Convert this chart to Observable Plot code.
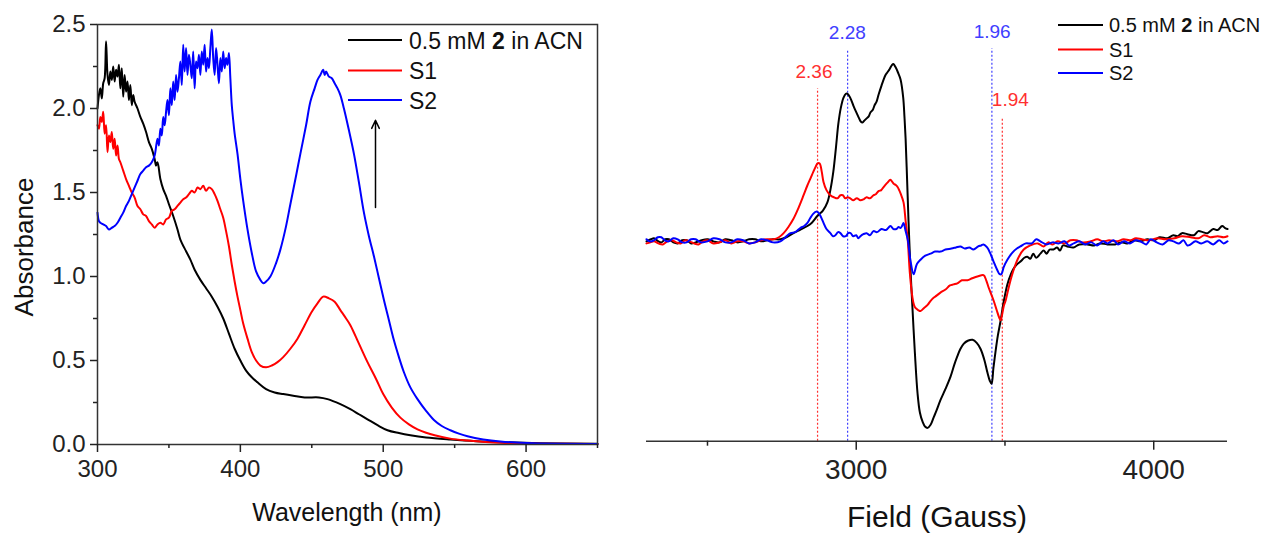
<!DOCTYPE html>
<html><head><meta charset="utf-8">
<script src="https://cdn.jsdelivr.net/npm/d3@7"></script>
<script src="https://cdn.jsdelivr.net/npm/@observablehq/plot@0.6"></script>
<style>
body{margin:0;background:#fff;}
#wrap{position:relative;width:1262px;height:535px;overflow:hidden;font-family:"Liberation Sans",Arial,sans-serif;background:#fff;}
#left,#right,#overlay{position:absolute;top:0;}
#left{left:0}
#right{left:620px}
#overlay{left:0;pointer-events:none}
</style></head><body>
<div id="wrap"><div id="left"></div><div id="right"></div><svg id="overlay" width="1262" height="535"></svg></div>
<script>
// ---------- UV-vis panel data ----------
const seriesNames = ["0.5 mM 2 in ACN", "S1", "S2"];
const uvXTicks = [300, 400, 500, 600];
const uvXMinor = [350, 450, 550, 650];
const uvYTicks = [0, 0.5, 1.0, 1.5, 2.0, 2.5];
const uvYMinor = [0.25, 0.75, 1.25, 1.75, 2.25];
const uvXLabel = "Wavelength (nm)";
const uvYLabel = "Absorbance";

const uvBlack = [[300,2.00],[301,2.08],[302,2.12],[303,2.06],[304,2.15],[305,2.18],[306,2.40],[307,2.20],[308,2.14],[309,2.22],[310,2.17],[311,2.25],[312,2.16],[313,2.23],[314,2.19],[315,2.26],[316,2.12],[317,2.24],[318,2.07],[319,2.20],[320,2.10],[321,2.16],[322,2.05],[323,2.14],[324,2.02],[325,2.08],[326,2.04],[328,2.00],[330,1.95],[332,1.91],[334,1.86],[336,1.80],[338,1.76],[340,1.70],[341,1.66],[342,1.68],[344,1.58],[346,1.52],[348,1.48],[350,1.43],[353,1.36],[356,1.28],[358,1.22],[362,1.15],[365,1.10],[368,1.04],[372,0.98],[376,0.93],[380,0.88],[384,0.82],[388,0.75],[392,0.66],[396,0.57],[400,0.50],[404,0.44],[408,0.40],[412,0.37],[418,0.33],[424,0.31],[430,0.30],[437,0.29],[445,0.28],[455,0.28],[461,0.27],[470,0.24],[477,0.21],[483,0.18],[489,0.15],[496,0.115],[503,0.085],[511,0.068],[519,0.055],[530,0.042],[547,0.03],[565,0.02],[582,0.014],[610,0.008],[650,0.005]];

const uvRed = [[300,1.90],[301,1.88],[302,1.95],[303,1.92],[304,1.98],[305,1.85],[306,1.90],[307,1.74],[308,1.84],[309,1.80],[310,1.86],[311,1.76],[312,1.82],[313,1.72],[314,1.78],[315,1.70],[316,1.68],[318,1.63],[320,1.58],[322,1.54],[324,1.50],[326,1.47],[328,1.42],[330,1.40],[332,1.37],[334,1.36],[336,1.33],[338,1.31],[340,1.29],[342,1.31],[344,1.32],[346,1.31],[348,1.34],[350,1.35],[352,1.39],[354,1.40],[356,1.42],[358,1.44],[360,1.46],[362,1.47],[364,1.49],[366,1.51],[368,1.50],[370,1.53],[372,1.52],[374,1.54],[376,1.51],[378,1.53],[380,1.52],[382,1.49],[384,1.45],[386,1.40],[388,1.35],[390,1.27],[392,1.18],[394,1.07],[396,0.97],[398,0.88],[400,0.80],[402,0.72],[405,0.63],[408,0.55],[411,0.50],[414,0.47],[418,0.46],[422,0.47],[426,0.49],[430,0.52],[435,0.57],[440,0.63],[445,0.71],[450,0.79],[454,0.84],[458,0.88],[462,0.87],[466,0.85],[470,0.80],[474,0.75],[477,0.71],[483,0.60],[489,0.49],[495,0.39],[500,0.30],[506,0.22],[512,0.16],[518,0.12],[524,0.09],[530,0.07],[536,0.055],[547,0.035],[559,0.024],[582,0.01],[610,0.005],[650,0.003]];

const uvBlue = [[300,1.38],[301,1.33],[302,1.32],[304,1.31],[306,1.30],[308,1.28],[310,1.29],[312,1.30],[314,1.32],[316,1.35],[318,1.38],[320,1.42],[322,1.45],[324,1.49],[326,1.53],[328,1.57],[330,1.61],[332,1.63],[334,1.65],[336,1.66],[338,1.68],[340,1.72],[342,1.82],[343,1.78],[344,1.88],[345,1.84],[346,1.95],[347,1.90],[348,1.98],[349,2.05],[350,1.96],[351,2.12],[352,2.02],[353,2.16],[354,2.05],[355,2.20],[356,2.10],[357,2.18],[358,2.28],[359,2.14],[360,2.38],[361,2.22],[362,2.36],[363,2.20],[364,2.32],[365,2.26],[366,2.18],[367,2.34],[368,2.12],[369,2.28],[370,2.24],[371,2.32],[372,2.20],[373,2.34],[374,2.26],[375,2.38],[376,2.22],[377,2.30],[378,2.24],[379,2.36],[380,2.47],[381,2.30],[382,2.20],[383,2.36],[384,2.26],[385,2.15],[386,2.30],[387,2.22],[388,2.34],[389,2.24],[390,2.30],[391,2.26],[392,2.33],[393,2.18],[394,2.02],[395,1.93],[396,1.85],[398,1.73],[400,1.58],[402,1.45],[405,1.28],[408,1.14],[411,1.03],[414,0.98],[416,0.96],[418,0.97],[421,1.00],[425,1.08],[428,1.16],[432,1.30],[435,1.43],[439,1.60],[442,1.73],[446,1.90],[449,2.04],[452,2.12],[454,2.17],[456,2.20],[458,2.23],[459,2.20],[460,2.22],[462,2.19],[464,2.18],[466,2.15],[468,2.12],[470,2.08],[472.5,2.00],[476,1.87],[479.5,1.73],[483,1.56],[486.5,1.38],[490,1.24],[493.5,1.12],[497,0.99],[500.5,0.86],[504,0.74],[507.5,0.62],[511,0.52],[514.5,0.43],[519,0.34],[524,0.27],[530,0.20],[535.5,0.146],[541,0.11],[547,0.085],[553,0.065],[559,0.049],[570,0.03],[582,0.018],[605,0.007],[650,0.003]];

// arrow annotation (wavelength, absorbance from -> to)
const uvArrow = [{x1: 494.6, y1: 1.41, x2: 494.6, y2: 1.93}];

// ---------- EPR panel data (field in Gauss, intensity a.u.) ----------
const eprXTicks = [3000, 4000];
const eprXMinor = [2500, 3500];
const eprXLabel = "Field (Gauss)";

const eprBlack = [[2295,0],[2310,2],[2320,3],[2335,0],[2345,-1],[2358,2],[2370,2],[2385,-1],[2400,-2],[2415,1],[2430,1],[2445,-2],[2460,-1],[2480,1],[2500,2],[2520,0],[2540,-1],[2560,2],[2580,1],[2600,-1],[2620,0],[2640,2],[2660,2],[2680,0],[2700,1],[2720,2],[2745,2],[2765,4],[2789,8],[2810,11],[2836,15],[2850,18],[2870,25],[2888,30],[2903,38],[2913,50],[2923,68],[2932,92],[2940,115],[2948,130],[2957,140],[2965,144],[2971,144],[2980,140],[2991,132],[3000,126],[3008,121],[3015,117],[3021,116],[3028,118],[3035,120],[3042,122],[3048,126],[3055,128],[3062,133],[3068,136],[3075,143],[3085,152],[3098,162],[3105,165],[3112,168],[3120,172],[3125,173],[3132,170],[3140,165],[3149,158],[3158,140],[3162,122],[3166,100],[3171,60],[3176,18],[3182,-25],[3189,-65],[3197,-108],[3206,-148],[3214,-167],[3223,-176],[3232,-181],[3240,-182],[3250,-179],[3260,-172],[3270,-165],[3283,-155],[3300,-144],[3317,-132],[3330,-120],[3340,-112],[3350,-105],[3361,-100],[3375,-97],[3391,-96],[3405,-99],[3418,-105],[3430,-115],[3441,-128],[3449,-136],[3455,-139],[3461,-124],[3468,-108],[3476,-92],[3485,-78],[3495,-60],[3508,-42],[3520,-32],[3530,-26],[3542,-22],[3555,-19],[3565,-16],[3575,-15],[3585,-17],[3595,-12],[3605,-16],[3619,-12],[3630,-9],[3640,-12],[3650,-8],[3663,-8],[3675,-6],[3685,-9],[3695,-4],[3710,-5],[3730,-6],[3750,-3],[3777,-3],[3800,-4],[3820,-2],[3844,-3],[3870,-3],[3890,-1],[3911,-2],[3935,1],[3955,0],[3979,2],[4000,1],[4020,4],[4046,3],[4066,6],[4080,5],[4095,8],[4113,7],[4135,6],[4150,10],[4165,9],[4181,8],[4200,12],[4215,11],[4230,15],[4240,13],[4248,12]];

const eprRed = [[2295,-2],[2308,-1],[2320,0],[2335,-2],[2350,-3],[2365,0],[2380,1],[2395,-1],[2410,-2],[2425,1],[2440,0],[2455,-2],[2470,-3],[2485,0],[2500,1],[2520,-2],[2540,-1],[2560,1],[2580,-2],[2600,0],[2620,0],[2640,-2],[2660,-1],[2680,1],[2700,2],[2722,2],[2740,4],[2756,8],[2772,14],[2789,22],[2805,32],[2823,45],[2835,54],[2847,62],[2856,68],[2864,73],[2870,76],[2877,76],[2884,68],[2890,58],[2900,50],[2913,45],[2925,43],[2937,42],[2947,45],[2955,45],[2963,42],[2971,43],[2980,42],[2990,40],[3002,42],[3014,40],[3025,41],[3035,43],[3046,42],[3058,45],[3066,46],[3075,49],[3084,50],[3092,53],[3104,57],[3115,60],[3121,58],[3127,56],[3133,55],[3139,53],[3150,46],[3159,38],[3166,20],[3173,2],[3180,-30],[3189,-55],[3194,-62],[3199,-65],[3208,-67],[3216,-68],[3228,-65],[3240,-62],[3250,-58],[3260,-55],[3270,-53],[3283,-50],[3300,-47],[3315,-43],[3327,-42],[3340,-41],[3355,-38],[3374,-38],[3390,-36],[3410,-34],[3428,-33],[3437,-38],[3445,-45],[3453,-51],[3462,-58],[3472,-67],[3480,-74],[3485,-77],[3490,-72],[3496,-63],[3502,-58],[3515,-42],[3529,-28],[3545,-16],[3563,-8],[3585,-4],[3610,-2],[3630,-5],[3645,-1],[3660,-3],[3677,0],[3700,-2],[3720,1],[3740,1],[3760,-1],[3788,0],[3810,2],[3830,0],[3850,1],[3875,0],[3899,2],[3920,1],[3940,3],[3960,2],[3985,1],[4013,3],[4040,2],[4070,3],[4095,5],[4124,4],[4150,3],[4170,6],[4190,4],[4215,5],[4235,4],[4248,5]];

const eprBlue = [[2295,2],[2305,0],[2320,1],[2333,4],[2345,4],[2357,1],[2370,0],[2385,3],[2400,2],[2415,-1],[2430,-1],[2445,2],[2460,2],[2478,-1],[2500,0],[2520,3],[2540,2],[2560,-1],[2580,-1],[2600,2],[2620,1],[2640,-2],[2660,-1],[2680,2],[2700,1],[2720,-1],[2745,0],[2762,4],[2779,8],[2795,9],[2812,13],[2825,15],[2836,18],[2846,23],[2856,27],[2865,29],[2873,28],[2881,24],[2890,18],[2900,12],[2913,8],[2922,5],[2930,6],[2939,9],[2947,8],[2956,5],[2965,5],[2973,8],[2981,8],[2990,5],[3000,6],[3007,3],[3014,5],[3024,7],[3035,8],[3046,6],[3058,10],[3070,9],[3085,12],[3100,11],[3115,15],[3125,12],[3135,12],[3142,14],[3149,13],[3154,15],[3159,18],[3166,10],[3173,2],[3183,-20],[3193,-32],[3204,-22],[3216,-18],[3232,-14],[3250,-12],[3265,-10],[3283,-10],[3300,-8],[3320,-7],[3335,-6],[3350,-5],[3365,-7],[3380,-6],[3394,-8],[3410,-5],[3420,-4],[3428,-3],[3440,-6],[3451,-12],[3462,-20],[3474,-28],[3482,-32],[3488,-32],[3496,-25],[3508,-18],[3525,-11],[3540,-7],[3552,-5],[3570,-2],[3590,-2],[3605,2],[3619,0],[3640,-3],[3660,-1],[3680,-2],[3700,0],[3715,-4],[3731,-2],[3750,0],[3770,-3],[3790,-1],[3810,-4],[3830,0],[3844,-2],[3865,1],[3880,-3],[3900,0],[3920,-2],[3940,1],[3955,0],[3975,-3],[3990,2],[4010,-1],[4030,-3],[4050,1],[4066,0],[4085,-2],[4100,1],[4113,-4],[4124,-3],[4140,0],[4160,-2],[4180,0],[4200,-3],[4220,1],[4235,-2],[4248,0]];

// g-value markers: g, field (G), top of dotted line (a.u.), label position
const gValues = [2.36, 2.28, 1.96, 1.94];
const gFields = [2870, 2971, 3456, 3491];
const gLineTops = [149, 187, 188, 120];
const gLabelFields = [2858, 2970, 3457, 3518];
const gLabelLevels = [165, 203, 204, 138];
const gSeries = ["S1", "S2", "S2", "S1"];

// ---------- styles ----------
const seriesColor = {"0.5 mM 2 in ACN": "#000000", "S1": "#ff0000", "S2": "#0000ff"};
const markerColor = {"S1": "#ff3030", "S2": "#4040ff"};
const FONT = "'Liberation Sans', Arial, sans-serif";
const AX = "#222";
const CURVE = "catmull-rom";

const toRows = (arr) => arr.map(([x, y]) => ({x, y}));

// ---------- left plot ----------
const left = Plot.plot({
  width: 620, height: 535,
  marginLeft: 97, marginRight: 23, marginTop: 24, marginBottom: 91,
  x: {domain: [300, 650]},
  y: {domain: [0, 2.5]},
  style: {fontFamily: FONT, fontSize: "24px", color: AX, background: "transparent", overflow: "visible"},
  marks: [
    Plot.line(toRows(uvBlack), {x: "x", y: "y", stroke: seriesColor[seriesNames[0]], strokeWidth: 2, curve: CURVE}),
    Plot.line(toRows(uvRed), {x: "x", y: "y", stroke: seriesColor[seriesNames[1]], strokeWidth: 2, curve: CURVE}),
    Plot.line(toRows(uvBlue), {x: "x", y: "y", stroke: seriesColor[seriesNames[2]], strokeWidth: 2, curve: CURVE}),
    Plot.arrow(uvArrow, {x1: "x1", y1: "y1", x2: "x2", y2: "y2", stroke: "#000", strokeWidth: 1.5, headLength: 9, headAngle: 50}),
    Plot.frame({stroke: "#333", strokeWidth: 1.5}),
    Plot.axisX(uvXTicks, {tickSize: 8, tickPadding: 7, fontSize: 24, strokeWidth: 1.5, label: null, tickFormat: d => String(d)}),
    Plot.axisX(uvXMinor, {tickSize: 4, strokeWidth: 1.5, label: null, tickFormat: () => ""}),
    Plot.axisY(uvYTicks, {tickSize: 7, tickPadding: 5, fontSize: 24, strokeWidth: 1.5, label: null, tickFormat: d3.format(".1f")}),
    Plot.axisY(uvYMinor, {tickSize: 4, strokeWidth: 1.5, label: null, tickFormat: () => ""})
  ]
});
document.getElementById("left").appendChild(left);

// ---------- right plot ----------
const eprYDomain = [-195, 235];
const gRows = gValues.map((g, i) => ({g, field: gFields[i], top: gLineTops[i], lf: gLabelFields[i], ll: gLabelLevels[i], s: gSeries[i]}));
const right = Plot.plot({
  width: 642, height: 535,
  marginLeft: 26, marginRight: 35, marginTop: 0, marginBottom: 94.3,
  x: {domain: [2295, 4248]},
  y: {domain: eprYDomain, axis: null},
  style: {fontFamily: FONT, fontSize: "28px", color: AX, background: "transparent", overflow: "visible"},
  marks: [
    Plot.ruleX(gRows, {x: "field", y1: eprYDomain[0], y2: "top", stroke: d => markerColor[d.s], strokeWidth: 1.2, strokeDasharray: "2,2"}),
    Plot.text(gRows, {x: "lf", y: "ll", text: d => d.g.toFixed(2), fill: d => markerColor[d.s], fontSize: 19}),
    Plot.line(toRows(eprBlack), {x: "x", y: "y", stroke: seriesColor[seriesNames[0]], strokeWidth: 2, curve: CURVE}),
    Plot.line(toRows(eprRed), {x: "x", y: "y", stroke: seriesColor[seriesNames[1]], strokeWidth: 2, curve: CURVE}),
    Plot.line(toRows(eprBlue), {x: "x", y: "y", stroke: seriesColor[seriesNames[2]], strokeWidth: 2, curve: CURVE}),
    Plot.ruleY([eprYDomain[0]], {stroke: "#333", strokeWidth: 1.5}),
    Plot.axisX(eprXTicks, {tickSize: 9, tickPadding: 9, fontSize: 28, strokeWidth: 1.5, label: null, tickFormat: d => String(d)}),
    Plot.axisX(eprXMinor, {tickSize: 5, strokeWidth: 1.5, label: null, tickFormat: () => ""})
  ]
});
document.getElementById("right").appendChild(right);

// ---------- titles and legends ----------
const ov = d3.select("#overlay").style("font-family", FONT);
ov.append("text").attr("transform", "translate(33,247) rotate(-90)").attr("text-anchor", "middle")
  .attr("font-size", 26).attr("fill", "#111").text(uvYLabel);
ov.append("text").attr("x", 347).attr("y", 521).attr("text-anchor", "middle")
  .attr("font-size", 25).attr("fill", "#111").text(uvXLabel);
ov.append("text").attr("x", 937).attr("y", 527).attr("text-anchor", "middle")
  .attr("font-size", 30).attr("fill", "#111").text(eprXLabel);

function legend(x0, x1, tx, ys, size, off) {
  seriesNames.forEach((name, i) => {
    ov.append("line").attr("x1", x0).attr("x2", x1).attr("y1", ys[i]).attr("y2", ys[i])
      .attr("stroke", seriesColor[name]).attr("stroke-width", 2);
    const t = ov.append("text").attr("x", tx).attr("y", ys[i] + off).attr("font-size", size).attr("fill", "#111");
    if (name.includes(" 2 ")) {
      const [a, b] = name.split(" 2 ");
      t.append("tspan").text(a + " ");
      t.append("tspan").attr("font-weight", "bold").text("2");
      t.append("tspan").text(" " + b);
    } else t.text(name);
  });
}
legend(348, 402, 409, [40, 70.5, 100], 23, 8.5);
legend(1058, 1103, 1109, [25, 49.5, 73], 20, 7);
</script>
</body></html>
